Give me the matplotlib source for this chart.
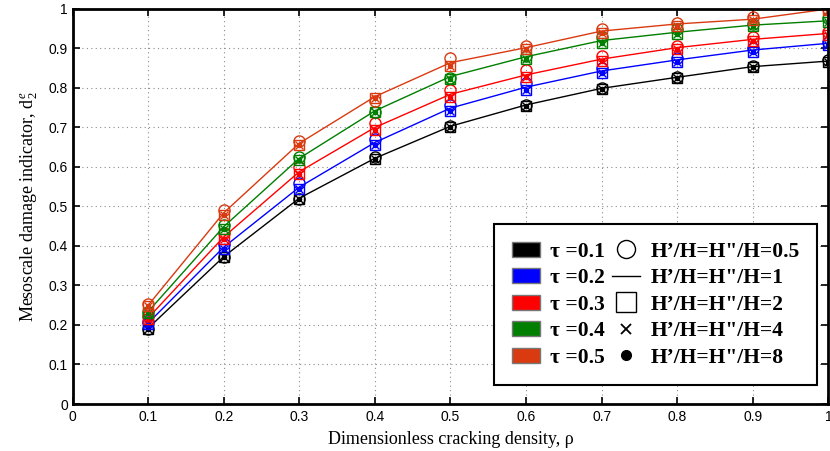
import matplotlib
matplotlib.use('Agg')
import matplotlib.pyplot as plt
from matplotlib.lines import Line2D
from matplotlib.patches import Patch
from matplotlib.ticker import FuncFormatter

plt.rcParams['mathtext.fontset'] = 'custom'
plt.rcParams['mathtext.rm'] = 'Liberation Serif'
plt.rcParams['mathtext.it'] = 'Liberation Serif:italic'

rho = [0.1, 0.2, 0.3, 0.4, 0.5, 0.6, 0.7, 0.8, 0.9, 1.0]
tau_labels = ['τ =0.1', 'τ =0.2', 'τ =0.3', 'τ =0.4', 'τ =0.5']
h_labels = ['H’/H=H"/H=0.5', 'H’/H=H"/H=1', 'H’/H=H"/H=2',
            'H’/H=H"/H=4', 'H’/H=H"/H=8']

# H'/H = 1 (solid lines)
d_line_01 = [0.192, 0.373, 0.521, 0.622, 0.703, 0.757, 0.799, 0.827, 0.854, 0.868]
d_line_02 = [0.205, 0.397, 0.549, 0.662, 0.749, 0.802, 0.843, 0.871, 0.896, 0.913]
d_line_03 = [0.218, 0.423, 0.588, 0.700, 0.784, 0.833, 0.873, 0.902, 0.923, 0.938]
d_line_04 = [0.234, 0.449, 0.622, 0.742, 0.829, 0.879, 0.920, 0.941, 0.959, 0.970]
d_line_05 = [0.250, 0.484, 0.660, 0.778, 0.864, 0.902, 0.944, 0.962, 0.974, 1.000]

# H'/H = 0.5 (circles)
d_circ_01 = [0.190, 0.372, 0.520, 0.624, 0.703, 0.757, 0.800, 0.828, 0.855, 0.870]
d_circ_02 = [0.207, 0.405, 0.560, 0.672, 0.757, 0.812, 0.851, 0.876, 0.900, 0.917]
d_circ_03 = [0.222, 0.432, 0.600, 0.712, 0.795, 0.846, 0.880, 0.906, 0.928, 0.942]
d_circ_04 = [0.232, 0.452, 0.626, 0.738, 0.826, 0.882, 0.930, 0.950, 0.962, 0.978]
d_circ_05 = [0.252, 0.490, 0.665, 0.768, 0.875, 0.905, 0.950, 0.965, 0.980, 1.000]

# H'/H = 2, 4, 8 (squares, crosses, dots) - nearly coincident
d_mark_01 = [0.190, 0.371, 0.519, 0.621, 0.701, 0.755, 0.797, 0.825, 0.852, 0.866]
d_mark_02 = [0.203, 0.392, 0.543, 0.656, 0.742, 0.795, 0.837, 0.866, 0.891, 0.909]
d_mark_03 = [0.215, 0.417, 0.581, 0.694, 0.778, 0.828, 0.868, 0.898, 0.920, 0.935]
d_mark_04 = [0.231, 0.444, 0.617, 0.738, 0.822, 0.873, 0.915, 0.937, 0.956, 0.968]
d_mark_05 = [0.247, 0.478, 0.655, 0.774, 0.856, 0.898, 0.940, 0.958, 0.971, 0.998]

lines = [d_line_01, d_line_02, d_line_03, d_line_04, d_line_05]
circs = [d_circ_01, d_circ_02, d_circ_03, d_circ_04, d_circ_05]
marks = [d_mark_01, d_mark_02, d_mark_03, d_mark_04, d_mark_05]
colors = ['black', '#0000ff', '#ff0000', '#007f00', '#d93a10']

fig = plt.figure(figsize=(8.3, 4.51), dpi=100)
ax = fig.add_axes([0.0875, 0.1042, 0.9105, 0.876])

for ln, ci, mk, c in zip(lines, circs, marks, colors):
    ax.plot(rho, ln, '-', color=c, lw=1.0)
    ax.plot(rho, ci, 'o', mfc='none', mec=c, ms=8, mew=1.0)
    ax.plot(rho, mk, 's', mfc='none', mec=c, ms=7, mew=1.0)
    ax.plot(rho, mk, 'x', color=c, ms=6, mew=1.0)
    ax.plot(rho, mk, '.', color=c, ms=6)

ax.set_xlim(0, 1)
ax.set_ylim(0, 1)
ticks = [i / 10 for i in range(11)]
ax.set_xticks(ticks)
ax.set_yticks(ticks)
fmt = FuncFormatter(lambda v, p: '%g' % round(v, 2))
ax.xaxis.set_major_formatter(fmt)
ax.yaxis.set_major_formatter(fmt)
ax.tick_params(direction='in', top=True, right=True, length=5, width=1.2,
               labelsize=10, labelfontfamily='Liberation Sans')
ax.tick_params(axis='x', pad=4)
ax.grid(True, linestyle=(0, (1, 3)), color='#8c8c8c', lw=0.8)
for s in ax.spines.values():
    s.set_linewidth(2.0)

ax.set_xlabel('Dimensionless cracking density, ρ', family='Liberation Serif',
              fontsize=13, labelpad=5)
ax.set_ylabel('Mesoscale damage indicator, d$_2^e$', family='Liberation Serif',
              fontsize=13, labelpad=6)

handles = [Patch(facecolor=c, edgecolor='#777777') for c in colors]
handles += [
    Line2D([], [], ls='none', marker='o', mfc='none', mec='black', ms=13),
    Line2D([], [], ls='-', color='black', lw=1.0),
    Line2D([], [], ls='none', marker='s', mfc='none', mec='black', ms=14),
    Line2D([], [], ls='none', marker='x', color='black', ms=7, mew=1.3),
    Line2D([], [], ls='none', marker='o', color='black', ms=7),
]
leg = ax.legend(handles, tau_labels + h_labels, ncol=2, loc='lower right',
                bbox_to_anchor=(817 / 830, 1 - 385 / 451),
                bbox_transform=fig.transFigure, borderaxespad=0,
                prop={'family': 'Liberation Serif', 'weight': 'bold', 'size': 15.5},
                fancybox=False, edgecolor='black', framealpha=1,
                handlelength=1.3, handleheight=0.7, columnspacing=0.3,
                labelspacing=0.3, handletextpad=0.5, borderpad=0.8)
leg.get_frame().set_linewidth(1.5)

fig.savefig('out.png', dpi=100)
